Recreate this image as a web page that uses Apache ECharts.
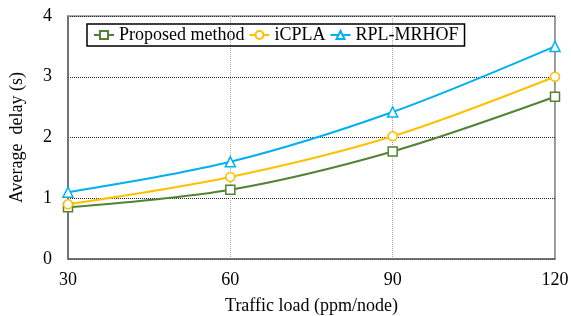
<!DOCTYPE html>
<html>
<head>
<meta charset="utf-8">
<script src="https://cdn.jsdelivr.net/npm/echarts@6/dist/echarts.min.js"></script>
<style>
  html, body { margin: 0; padding: 0; background: #fff; }
  #chart { width: 571px; height: 316px; }
</style>
</head>
<body>
<div id="chart"></div>
<script>
const categories = [30, 60, 90, 120]
const proposed = [0.85, 1.14, 1.77, 2.67]
const icpla = [0.9, 1.35, 2.02, 3.0]
const rplMrhof = [1.1, 1.6, 2.42, 3.5]
const yTicks = [0, 1, 2, 3, 4]

const font = '"Liberation Serif", "Times New Roman", serif'

const chart = echarts.init(document.getElementById('chart'))

function line (name, data, color, symbol) {
  return {
    name,
    type: 'line',
    smooth: 0.3,
    data: categories.map((c, i) => [c, data[i]]),
    symbol,
    symbolSize: symbol === 'triangle' ? 10 : 9,
    lineStyle: { color, width: 2 },
    itemStyle: { color: '#fff', borderColor: color, borderWidth: 1.5 },
    color
  }
}

chart.setOption({
  animation: false,
  grid: {
    left: 68, right: 16, top: 16, bottom: 57,
    outerBoundsMode: 'none',
    show: true, borderColor: '#555', borderWidth: 1.2
  },
  legend: {
    top: 24,
    left: 87,
    padding: [2, 6, 2, 6],
    borderColor: '#000',
    borderWidth: 1.5,
    itemGap: 4,
    itemWidth: 20,
    itemHeight: 10,
    textStyle: { fontFamily: font, fontSize: 18, color: '#000' },
    data: ['Proposed method', 'iCPLA', 'RPL-MRHOF']
  },
  xAxis: {
    type: 'value',
    min: 30,
    max: 120,
    interval: 30,
    name: 'Traffic load (ppm/node)',
    nameLocation: 'middle',
    nameGap: 38,
    nameTextStyle: { fontFamily: font, fontSize: 18, color: '#000' },
    axisLine: { lineStyle: { color: '#666', width: 1.5 } },
    axisTick: { show: false },
    axisLabel: { fontFamily: font, fontSize: 18, color: '#000', margin: 12 },
    splitLine: { show: true, lineStyle: { color: '#aaa', type: 'dotted', width: 1 } }
  },
  yAxis: {
    type: 'value',
    min: yTicks[0],
    max: yTicks[yTicks.length - 1],
    interval: 1,
    name: 'Average  delay (s)',
    nameLocation: 'middle',
    nameGap: 42,
    nameTextStyle: { fontFamily: font, fontSize: 18, color: '#000' },
    axisLine: { show: true, lineStyle: { color: '#666', width: 1.5 } },
    axisTick: { show: false },
    axisLabel: { fontFamily: font, fontSize: 18, color: '#000', margin: 16 },
    splitLine: { show: true, lineStyle: { color: '#222', type: 'dotted', width: 1 } }
  },
  series: [
    line('Proposed method', proposed, '#548235', 'rect'),
    line('iCPLA', icpla, '#FFC000', 'circle'),
    line('RPL-MRHOF', rplMrhof, '#00B0F0', 'triangle')
  ]
})
</script>
</body>
</html>
